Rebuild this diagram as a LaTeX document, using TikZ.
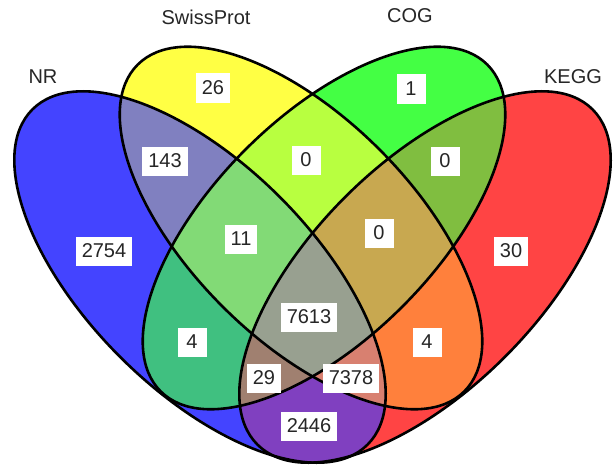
\documentclass[tikz,border=0pt]{standalone}
\usepackage{fontspec}
\setmainfont{Liberation Sans}

\definecolor{cnr}{RGB}{68,68,255}
\definecolor{csp}{RGB}{255,255,68}
\definecolor{ccog}{RGB}{68,255,68}
\definecolor{ckegg}{RGB}{255,68,68}
\definecolor{cnrsp}{RGB}{128,128,192}
\definecolor{cnrcog}{RGB}{64,192,128}
\definecolor{cnrkegg}{RGB}{128,64,192}
\definecolor{cspcog}{RGB}{184,255,64}
\definecolor{cspkegg}{RGB}{255,128,60}
\definecolor{ccogkegg}{RGB}{128,190,64}
\definecolor{cnrspcog}{RGB}{130,218,118}
\definecolor{cnrspkegg}{RGB}{216,128,112}
\definecolor{cnrcogkegg}{RGB}{160,128,112}
\definecolor{cspcogkegg}{RGB}{200,168,80}
\definecolor{cnrspcogkegg}{RGB}{152,160,144}

\begin{document}
\begin{tikzpicture}[x=1pt, y=1pt]
    \tikzset{
        nr/.style={shift={(200,190)}, rotate=-45, x radius=237, y radius=113},
        sp/.style={shift={(301,239)}, rotate=-45, x radius=231, y radius=111},
        cog/.style={shift={(324,239)}, rotate=45, x radius=231, y radius=111},
        kegg/.style={shift={(425,190)}, rotate=45, x radius=237, y radius=113},
        rim/.style={draw=black, line width=2.6pt},
        count/.style={fill=white, text=black!85, font=\fontsize{20}{24}\selectfont, minimum width=29pt, minimum height=29pt, inner xsep=6pt},
        setname/.style={text=black!85, font=\fontsize{20}{24}\selectfont}
    }
    \useasboundingbox (0,0) rectangle (613,467);

    % one set
    \foreach \i in {nr,sp,cog,kegg}
        \fill[\i, fill=c\i] (0,0) ellipse [];
    % two sets
    \foreach \i/\j in {nr/sp, nr/cog, nr/kegg, sp/cog, sp/kegg, cog/kegg} {
        \begin{scope}
            \clip[\i] (0,0) ellipse [];
            \fill[\j, fill=c\i\j] (0,0) ellipse [];
        \end{scope}
    }
    % three sets
    \foreach \i/\j/\k in {nr/sp/cog, nr/sp/kegg, nr/cog/kegg, sp/cog/kegg} {
        \begin{scope}
            \clip[\i] (0,0) ellipse [];
            \clip[\j] (0,0) ellipse [];
            \fill[\k, fill=c\i\j\k] (0,0) ellipse [];
        \end{scope}
    }
    % all four
    \begin{scope}
        \clip[nr] (0,0) ellipse [];
        \clip[sp] (0,0) ellipse [];
        \clip[cog] (0,0) ellipse [];
        \fill[kegg, fill=cnrspcogkegg] (0,0) ellipse [];
    \end{scope}

    \foreach \i in {nr,sp,cog,kegg}
        \draw[\i, rim] (0,0) ellipse [];

    \node[setname] (nrname) at (43,390) {NR};
    \node[setname] (spname) at (206,450) {SwissProt};
    \node[setname] (cogname) at (410,451) {COG};
    \node[setname] (keggname) at (573,390) {KEGG};

    \node[count] (sponly) at (213,379) {26};
    \node[count] (cogonly) at (411,378) {1};
    \node[count] (nrsp) at (165,306) {143};
    \node[count] (spcog) at (306,307) {0};
    \node[count] (cogkegg) at (445,306) {0};
    \node[count] (nronly) at (104,216) {2754};
    \node[count] (nrspcog) at (241,228) {11};
    \node[count] (spcogkegg) at (379,234) {0};
    \node[count] (keggonly) at (511,216) {30};
    \node[count] (nrcog) at (192,125) {4};
    \node[count] (all) at (309,150) {7613};
    \node[count] (spkegg) at (427,125) {4};
    \node[count] (nrcogkegg) at (264,89) {29};
    \node[count] (nrspkegg) at (351,89) {7378};
    \node[count] (nrkegg) at (309,41) {2446};
\end{tikzpicture}
\end{document}
